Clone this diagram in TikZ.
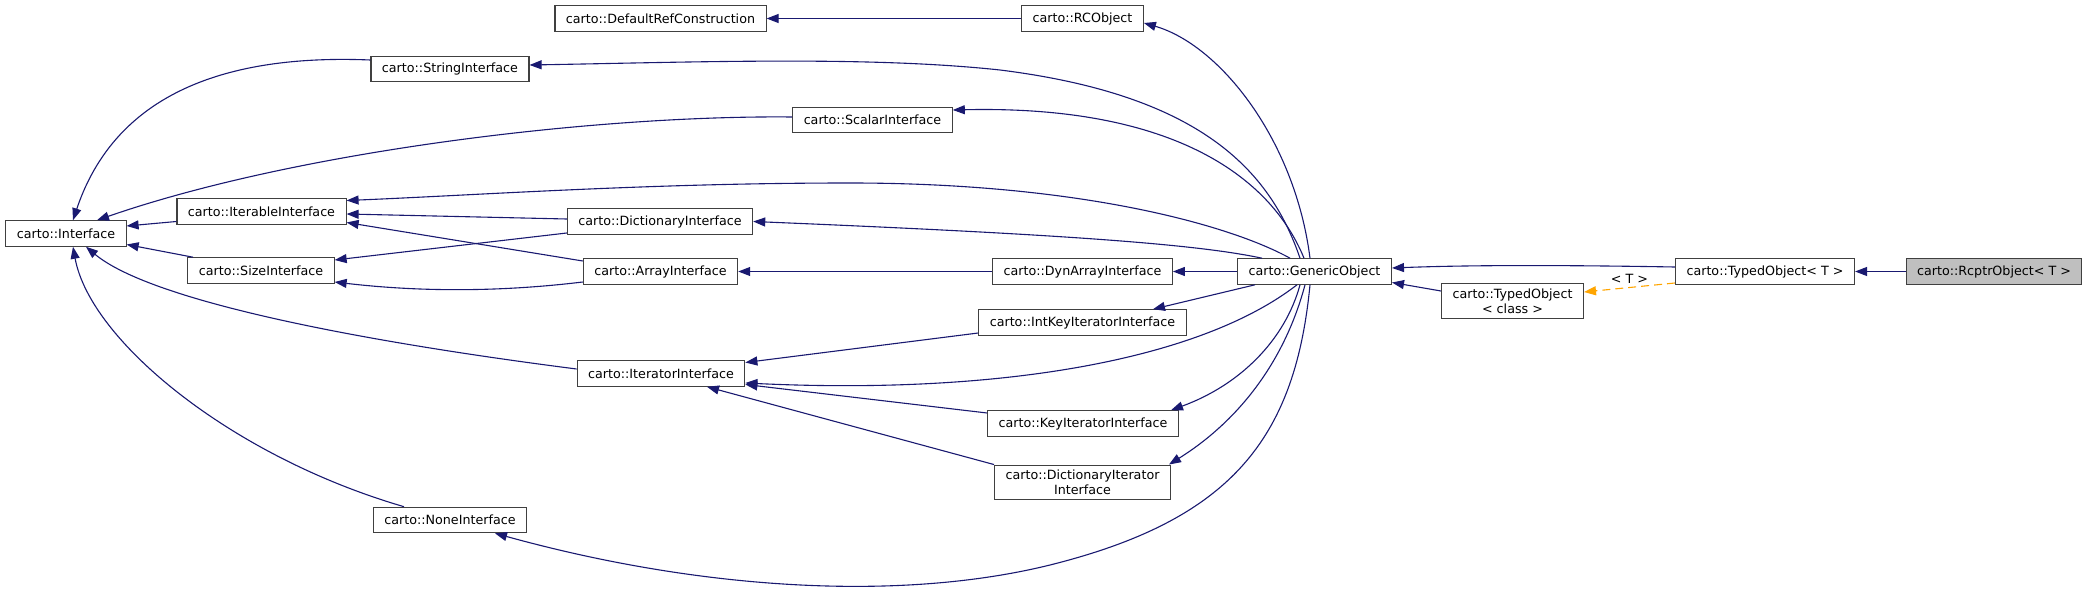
\documentclass[tikz,border=0pt]{standalone}
\usepackage{fontspec}
\setmainfont{DejaVu Sans}
\usetikzlibrary{arrows.meta}
\definecolor{edgeblue}{HTML}{191970}
\definecolor{tplorange}{HTML}{FFA500}
\definecolor{boxline}{HTML}{404040}
\definecolor{curfill}{HTML}{BFBFBF}
\tikzset{
  cls/.style={draw=boxline, line width=1.1pt, fill=white, inner xsep=11pt,
    inner ysep=5pt, minimum height=25.5pt, align=center,
    font=\fontsize{12.7}{15}\selectfont},
  cur/.style={cls, fill=curfill},
  inh/.style={draw=edgeblue, line width=1.1pt, -{Triangle[length=12pt,width=9pt]}},
  tpl/.style={draw=tplorange, line width=1.1pt, dash pattern=on 8pt off 5pt,
    -{Triangle[length=12pt,width=9pt]}},
}
\begin{document}
\begin{tikzpicture}[x=1pt,y=-1pt]
      \useasboundingbox (0,0) rectangle (2088,599);
      \draw
        (660.5,18.5) node[cls] (drc){carto::DefaultRefConstruction}
        (1082.5,18.5) node[cls] (rco){carto::RCObject}
        (450,69) node[cls] (str){carto::StringInterface}
        (872.5,120) node[cls] (sca){carto::ScalarInterface}
        (66,233.5) node[cls] (int){carto::Interface}
        (261.5,211.5) node[cls] (itb){carto::IterableInterface}
        (261,270.5) node[cls] (siz){carto::SizeInterface}
        (660,221.5) node[cls] (dic){carto::DictionaryInterface}
        (660.5,271.5) node[cls] (arr){carto::ArrayInterface}
        (1082.5,271.5) node[cls] (dyn){carto::DynArrayInterface}
        (1314.5,271.5) node[cls] (gen){carto::GenericObject}
        (1082.5,322.5) node[cls] (iki){carto::IntKeyIteratorInterface}
        (661,373.5) node[cls] (itr){carto::IteratorInterface}
        (1083,423.5) node[cls] (kit){carto::KeyIteratorInterface}
        (1082.5,482.5) node[cls] (dit){carto::DictionaryIterator\\Interface}
        (450,520) node[cls] (non){carto::NoneInterface}
        (1512.5,301) node[cls] (toc){carto::TypedObject\\< class >}
        (1765,271.5) node[cls] (tot){carto::TypedObject< T >}
        (1994,271.5) node[cur] (rcp){carto::RcptrObject< T >};
      \begin{scope}[inh]
        \draw (rco.west) -- (drc.east);
        \draw ([xshift=-4.5pt]gen.north) .. controls (1295,140) and (1220,45) .. ([yshift=-4.5pt]rco.east);
        \draw ([xshift=-14.5pt]gen.north) .. controls (1270,170) and (1200,95) .. (1000,70)
          .. controls (870,56) and (700,62) .. ([yshift=4pt]str.east);
        \draw ([xshift=-10.5pt]gen.north) .. controls (1270,175) and (1170,105) .. ([yshift=10pt]sca.east);
        \draw ([xshift=-24.5pt]gen.north) .. controls (1230,225) and (1080,183) .. (850,183)
          .. controls (650,183) and (480,195) .. ([yshift=11pt]itb.east);
        \draw ([xshift=-52.5pt]gen.north) .. controls (1200,245) and (1080,235) .. (dic.east);
        \draw (gen.west) -- (dyn.east);
        \draw ([xshift=-59.5pt]gen.south) -- ([xshift=70.5pt]iki.north);
        \draw ([xshift=-17.5pt]gen.south) .. controls (1200,360) and (1000,395) .. ([yshift=-9.5pt]itr.east);
        \draw ([xshift=-14.5pt]gen.south) .. controls (1285,340) and (1240,385) .. ([xshift=88pt]kit.north);
        \draw ([xshift=-9.5pt]gen.south) .. controls (1285,360) and (1240,420) .. ([xshift=86.5pt]dit.north);
        \draw ([xshift=-4.5pt]gen.south) .. controls (1295,440) and (1230,520) .. (1050,565)
          .. controls (900,602) and (700,590) .. ([xshift=45pt]non.south);
        \draw ([yshift=4.5pt]tot.west) .. controls (1560,265) and (1470,265) .. ([yshift=3.5pt]gen.east);
        \draw ([yshift=10pt]toc.west) -- ([yshift=-11pt]gen.east);
        \draw (rcp.west) -- (tot.east);
        \draw ([yshift=-10pt]itb.west) -- ([yshift=7.5pt]int.east);
        \draw ([xshift=-68pt]siz.north) -- ([yshift=-11pt]int.east);
        \draw ([yshift=9pt]str.west) .. controls (250,55) and (120,80) .. ([xshift=7pt]int.north);
        \draw ([yshift=3pt]sca.west) .. controls (600,115) and (300,150) .. ([xshift=31pt]int.north);
        \draw ([yshift=2.5pt]dic.west) -- ([yshift=-2.5pt]itb.east);
        \draw ([yshift=10.5pt]arr.west) -- ([yshift=-11pt]itb.east);
        \draw ([yshift=-11.5pt]dic.west) -- ([yshift=10.5pt]siz.east);
        \draw ([yshift=-10.5pt]arr.west) .. controls (500,292) and (420,292) .. ([yshift=-11.5pt]siz.east);
        \draw (dyn.west) -- (arr.east);
        \draw ([yshift=4.5pt]itr.west) .. controls (350,340) and (150,300) .. ([xshift=20pt]int.south);
        \draw ([xshift=-46pt]non.north) .. controls (230,456) and (90,340) .. ([xshift=7pt]int.south);
        \draw ([yshift=-10.5pt]iki.west) -- ([yshift=11pt]itr.east);
        \draw ([yshift=10.5pt]kit.west) -- ([yshift=-11pt]itr.east);
        \draw (dit.north west) -- ([xshift=46pt]itr.south);
      \end{scope}
      \draw[tpl] ([yshift=-11.5pt]tot.west) -- node[above, text=black, font=\fontsize{12.7}{15}\selectfont]{< T >} ([yshift=9pt]toc.east);
    \end{tikzpicture}
\end{document}
